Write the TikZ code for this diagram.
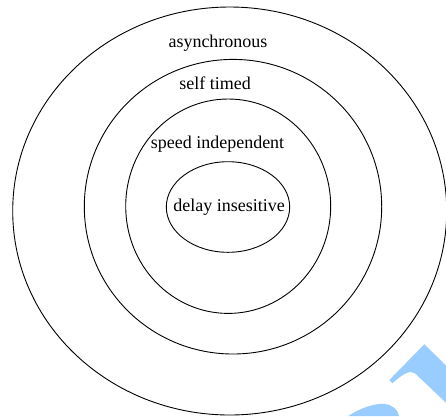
\documentclass[tikz,border=0pt]{standalone}
\usepackage{fontspec}
\setmainfont{Liberation Serif}
\definecolor{wm}{RGB}{153,204,255}
\begin{document}
\begin{tikzpicture}[x=1pt,y=-1pt,
  ring/.style={draw=black,line width=0.9pt},
  lbl/.style={font=\fontsize{18}{20}\selectfont,inner sep=0pt}]
\useasboundingbox (0,0) rectangle (446,416);
\fill[white] (0,0) rectangle (446,416);
% watermark fragment
\fill[wm] (424.3,344.3) -- (446,365.5) -- (446,402.7) -- (415,373.3)
  .. controls (410,370) and (404,373) .. (392.3,383.3) -- (389.3,380) -- cycle;
\fill[wm] (348.3,416) .. controls (360,408) and (375,403) .. (385,404)
  .. controls (393,405) and (398,410) .. (399,416) -- cycle;
% rings
\draw[ring] (229.7,211) ellipse [x radius=217,y radius=204];
\draw[ring] (233,206.7) ellipse [x radius=148.7,y radius=147.3];
\draw[ring] (228.2,206.2) ellipse [x radius=102.5,y radius=107.2];
\draw[ring] (228,207) ellipse [x radius=61.7,y radius=45.3];
\node[lbl] (a) at (218,43) {asynchronous};
\node[lbl] (s) at (215,83) {self timed};
\node[lbl] (p) at (217.5,144) {speed independent};
\node[lbl] (d) at (229,207) {delay insesitive};
\end{tikzpicture}
\end{document}
